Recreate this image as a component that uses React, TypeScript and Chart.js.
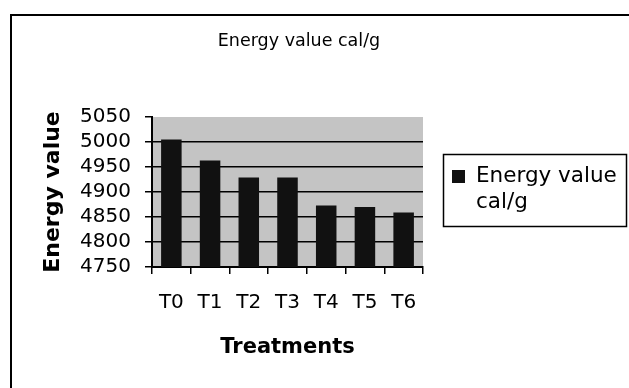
import { useEffect, useRef } from 'react';
import { Chart, registerables } from 'chart.js';

Chart.register(...registerables);

const categories = ['T0', 'T1', 'T2', 'T3', 'T4', 'T5', 'T6'];
const energyValues = [5005, 4963, 4929, 4929, 4873, 4870, 4859];
const seriesLabelLines = ['Energy value', 'cal/g'];
const chartTitle = 'Energy value cal/g';
const xAxisTitle = 'Treatments';
const yAxisTitle = 'Energy value';
const yMin = 4750;
const yMax = 5050;
const yStep = 50;

const FONT = "'DejaVu Sans', sans-serif";

const decor = {
  id: 'decor',
  beforeDraw(chart: any) {
    const { ctx, chartArea: a, width, height } = chart;
    ctx.save();
    ctx.fillStyle = '#ffffff';
    ctx.fillRect(0, 0, width, height);
    ctx.fillStyle = '#c4c4c4';
    ctx.fillRect(a.left, a.top, a.right - a.left, a.bottom - a.top);
    ctx.restore();
  },
  afterDraw(chart: any) {
    const ctx = chart.ctx;
    ctx.save();
    ctx.strokeStyle = '#000';
    ctx.lineWidth = 2;
    ctx.beginPath();
    ctx.moveTo(11, 388);
    ctx.lineTo(11, 15);
    ctx.lineTo(629, 15);
    ctx.stroke();
    // chart title
    ctx.fillStyle = '#000';
    ctx.textBaseline = 'middle';
    ctx.textAlign = 'center';
    ctx.font = `17.5px ${FONT}`;
    ctx.fillText(chartTitle, 299, 41);
    // legend
    ctx.lineWidth = 1.5;
    ctx.strokeRect(443.5, 154.5, 183, 72);
    ctx.fillStyle = '#111';
    ctx.fillRect(452, 170, 13, 13);
    ctx.fillStyle = '#000';
    ctx.font = `21.5px ${FONT}`;
    ctx.textAlign = 'left';
    seriesLabelLines.forEach((t, i) => ctx.fillText(t, 476, 176.5 + i * 25.5));
    ctx.restore();
  },
};

export default function App() {
  const ref = useRef<HTMLCanvasElement>(null);
  useEffect(() => {
    if (!ref.current) return;
    const chart = new Chart(ref.current, {
      type: 'bar',
      data: {
        labels: categories,
        datasets: [
          {
            label: seriesLabelLines.join(' '),
            data: energyValues,
            backgroundColor: '#111111',
            borderWidth: 0,
            barPercentage: 0.53,
            categoryPercentage: 1,
          },
        ],
      },
      options: {
        responsive: false,
        animation: false,
        devicePixelRatio: 1,
        layout: { padding: { left: 0, right: 206, top: 117, bottom: 0 } },
        plugins: {
          legend: { display: false },
          tooltip: { enabled: false },
          title: { display: false },
        },
        scales: {
          x: {
            grid: {
              display: true,
              drawOnChartArea: false,
              drawTicks: true,
              tickLength: 7,
              color: '#000',
              lineWidth: 1.5,
              offset: true,
            },
            border: { display: true, color: '#000', width: 2 },
            ticks: {
              color: '#000',
              font: { family: FONT, size: 20 },
              padding: 17,
              maxRotation: 0,
              autoSkip: false,
            },
            title: {
              display: true,
              text: xAxisTitle,
              color: '#000',
              font: { family: FONT, size: 21, weight: 'bold' },
              padding: { top: 0, bottom: 28 },
            },
            afterFit: (s: any) => {
              s.height = 121;
            },
          },
          y: {
            min: yMin,
            max: yMax,
            ticks: {
              stepSize: yStep,
              color: '#000',
              font: { family: FONT, size: 20 },
              padding: 14,
              autoSkip: false,
              callback: (v: any) => String(v),
            },
            grid: {
              color: (c: any) => (c.tick && c.tick.value === yMax ? 'rgba(0,0,0,0)' : '#000'),
              tickColor: '#000',
              lineWidth: 1.5,
              tickLength: 7,
              drawTicks: true,
            },
            border: { display: true, color: '#000', width: 2 },
            title: {
              display: true,
              text: yAxisTitle,
              color: '#000',
              font: { family: FONT, size: 22, weight: 'bold' },
              padding: { top: 40, bottom: 0 },
            },
            afterFit: (s: any) => {
              s.width = 152;
            },
          },
        },
      },
      plugins: [decor],
    });
    return () => chart.destroy();
  }, []);
  return (
    <div style={{ position: 'absolute', left: 0, top: 0, width: 629, height: 388 }}>
      <canvas ref={ref} width={629} height={388} style={{ display: 'block' }} />
    </div>
  );
}
